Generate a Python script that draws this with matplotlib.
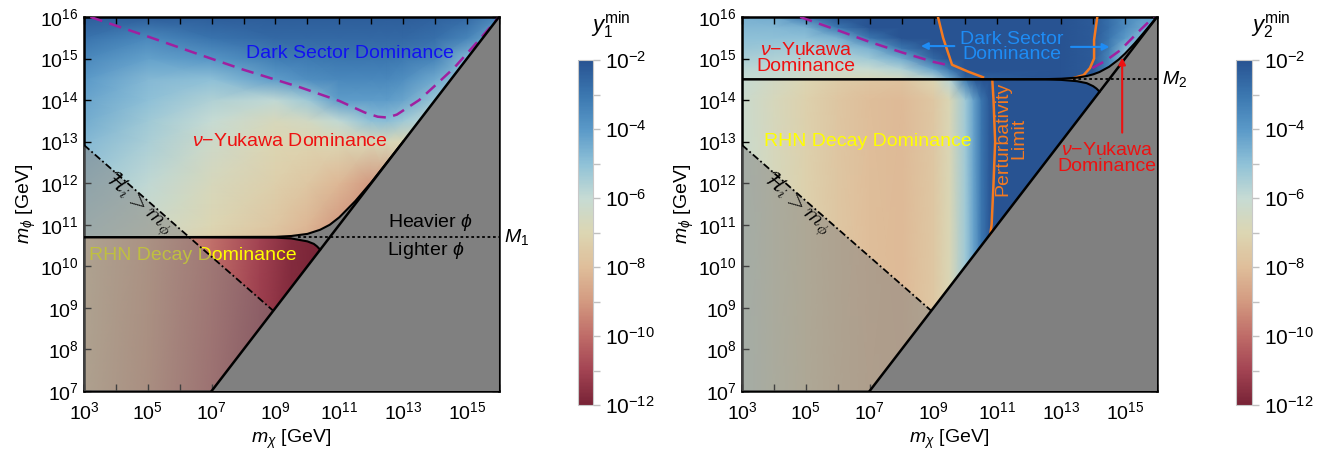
import numpy as np
import matplotlib
matplotlib.use("Agg")
import matplotlib.pyplot as plt
from matplotlib.colors import LinearSegmentedColormap, Normalize
from matplotlib.cm import ScalarMappable
from matplotlib.patches import Polygon

plt.rcParams['font.family'] = ['Liberation Sans', 'DejaVu Sans']
plt.rcParams['mathtext.fontset'] = 'custom'
plt.rcParams['mathtext.rm'] = 'Liberation Sans'
plt.rcParams['mathtext.it'] = 'Liberation Sans:italic'
plt.rcParams['mathtext.bf'] = 'Liberation Sans:bold'

# ---- data (all in log10 units) ----
# colour scale y_min, log10
cmap_colors = ['#782336', '#a34453', '#bf6c68', '#d39a80', '#dfbe9a', '#dcd6b2',
               '#c6dbd4', '#8fc1d7', '#5a99c8', '#3b77b0', '#285392']
cbar_ticks = [-12, -10, -8, -6, -4, -2]

# left panel, field above M1
LU_X = [3, 5, 7, 9, 10, 11, 12, 12.5, 13, 14, 15, 16]
LU_Y = [10.7, 11, 12, 13, 13.5, 14, 14.5, 15, 15.5, 16]
LU_Z = [[-5.8, -6.4, -7.2, -7.9, -8.4, -9.2, -9.6, -9.6, -9.6, -9.6, -9.6, -9.6],
        [-5.7, -6.3, -7.0, -7.7, -8.2, -9.0, -9.4, -9.4, -9.4, -9.4, -9.4, -9.4],
        [-5.3, -5.9, -6.7, -7.3, -7.6, -8.2, -9.0, -9.0, -8.0, -8.0, -8.0, -8.0],
        [-4.8, -5.5, -6.3, -7.0, -7.1, -7.0, -6.9, -6.8, -7.0, -7.0, -7.0, -7.0],
        [-4.5, -5.3, -6.0, -6.7, -6.5, -5.9, -5.0, -4.9, -5.3, -6.0, -6.0, -6.0],
        [-4.3, -5.0, -5.6, -5.9, -5.3, -4.1, -4.1, -4.1, -4.3, -5.2, -5.5, -5.5],
        [-4.0, -4.8, -5.0, -4.1, -3.7, -3.5, -3.5, -3.5, -3.7, -4.4, -5.2, -5.2],
        [-3.5, -4.2, -3.9, -3.2, -3.1, -3.0, -3.0, -3.0, -3.1, -3.4, -4.8, -5.0],
        [-2.9, -3.5, -2.9, -2.6, -2.6, -2.6, -2.6, -2.6, -2.6, -2.8, -3.4, -4.5],
        [-2.3, -2.3, -2.3, -2.3, -2.3, -2.3, -2.3, -2.3, -2.3, -2.4, -2.6, -3.5]]
# left panel, field below M1
LL_X = [3, 5, 7, 8.5, 9.5, 10.5, 16]
LL_Y = [7, 10.7]
LL_Z = [[-7.8, -8.9, -10.2, -11.3, -11.8, -12.0, -12.0],
        [-7.6, -8.7, -9.9, -11.0, -11.7, -12.0, -12.0]]

# right panel, field below M2
RL_X = [3, 4, 5, 6, 7, 8, 9, 9.5, 10, 10.25, 10.5, 10.75, 11, 16]
RL_Y = [7, 14.0, 14.5]
RL_Z = [[-6.2, -6.7, -7.2, -7.7, -8.0, -8.1, -7.6, -6.9, -5.3, -4.3, -3.0, -2.2, -1.8, -1.8],
        [-6.2, -6.7, -7.2, -7.7, -8.0, -8.1, -7.6, -6.9, -5.3, -4.3, -3.0, -2.2, -1.8, -1.8],
        [-6.0, -6.5, -7.0, -7.4, -7.7, -7.8, -7.0, -5.8, -3.2, -2.3, -1.9, -1.8, -1.8, -1.8]]
# right panel, field above M2
RU_X = [3, 4, 5, 6, 7, 8, 9, 9.5, 10, 13, 14, 14.5, 15, 15.5, 16]
RU_Y = [14.5, 14.75, 15, 15.25, 15.5, 15.75, 16]
RU_Z = [[-6.0, -6.2, -6.4, -6.7, -6.8, -6.6, -5.8, -4.5, -2.5, -1.8, -2.2, -3.5, -4.5, -4.5, -4.5],
        [-5.8, -5.9, -6.1, -6.2, -6.1, -5.6, -4.2, -3.0, -2.0, -1.8, -2.2, -3.5, -4.5, -4.5, -4.5],
        [-5.5, -5.6, -5.7, -5.7, -5.3, -4.5, -2.6, -2.0, -1.8, -1.8, -2.2, -3.5, -5.0, -5.0, -5.0],
        [-5.2, -5.3, -5.4, -5.2, -4.6, -3.0, -2.0, -2.0, -1.8, -1.8, -2.2, -3.2, -4.8, -5.0, -5.0],
        [-5.0, -5.0, -5.0, -4.6, -3.0, -2.0, -2.0, -2.0, -1.8, -1.8, -2.2, -3.0, -4.0, -4.8, -4.8],
        [-4.8, -4.8, -4.6, -3.0, -2.0, -2.0, -2.0, -2.0, -1.8, -1.8, -2.2, -2.8, -3.6, -4.3, -4.3],
        [-4.6, -4.5, -3.0, -2.0, -2.0, -2.0, -2.0, -2.0, -1.8, -1.8, -2.2, -2.8, -3.5, -4.0, -4.0]]

# threshold curves, left (M1)
M1 = 10.7
L_UP_X = [3, 9.0, 9.5, 10.0, 10.4, 10.7, 11.0, 11.5, 12.0, 12.5, 13.0]
L_UP_Y = [10.7, 10.71, 10.73, 10.78, 10.88, 11.0, 11.18, 11.57, 12.02, 12.51, 13.0]
L_LO_X = [3, 9.0, 9.5, 10.0, 10.2, 10.3, 10.35, 10.4]
L_LO_Y = [10.7, 10.69, 10.67, 10.60, 10.54, 10.48, 10.44, 10.4]
L_DOT_X = [9.7, 16]
# threshold curves, right (M2)
M2 = 14.5
R_UP_X = [3, 12.5, 13, 13.5, 13.8, 14, 14.2, 14.5, 14.8, 15, 15.3, 15.6, 16]
R_UP_Y = [14.5, 14.504, 14.514, 14.541, 14.579, 14.619, 14.676, 14.801, 14.976, 15.119, 15.364, 15.634, 16.0]
R_LO_X = [3, 12.5, 13, 13.5, 13.8, 14, 14.1, 14.15, 14.2]
R_LO_Y = [14.5, 14.496, 14.486, 14.454, 14.407, 14.335, 14.28, 14.243, 14.2]
R_DOT_X = [13.38, 16]

# H_i > m_phi line
HI_X = [3, 8.93]
HI_Y = [12.92, 8.93]

# purple dashed lines
L_DASH_X = [3.2, 5, 6.6, 8, 9.8, 11, 11.8, 12.2, 12.5, 12.8, 13.1, 13.5, 14, 14.6, 15.3, 16]
L_DASH_Y = [16.0, 15.53, 15.1, 14.73, 14.3, 13.98, 13.7, 13.6, 13.58, 13.65, 13.8, 14.0, 14.35, 14.78, 15.38, 16]
R_DASH1_X = [4.82, 6, 7, 8, 9, 9.58]
R_DASH1_Y = [16.0, 15.68, 15.4, 15.15, 14.92, 14.82]
R_DASH2_X = [13.97, 14.4, 14.85, 15.48, 15.9]
R_DASH2_Y = [14.77, 14.95, 15.2, 15.69, 16.0]

# perturbativity limit (orange)
PA_X = [9.14, 9.3, 9.58, 10.1, 10.55]
PA_Y = [16.0, 15.5, 14.85, 14.68, 14.55]
PB_X = [10.84, 10.88, 10.93, 10.88, 10.82, 10.78]
PB_Y = [14.5, 14.0, 13.0, 12.0, 11.0, 10.78]
PC_X = [14.13, 14.03, 14.03, 13.9, 13.7, 13.38]
PC_Y = [16.0, 15.45, 15.0, 14.77, 14.6, 14.53]

XMIN, XMAX, YMIN, YMAX = 3, 16, 7, 16
GRAY = '#808080'
FS = 14

cmap = LinearSegmentedColormap.from_list('ymin', cmap_colors)
norm = Normalize(vmin=-12, vmax=-2)

fig = plt.figure(figsize=(13.2, 4.49), dpi=100)
ax1 = fig.add_axes([0.0636, 0.1292, 0.3144, 0.833])
ax2 = fig.add_axes([0.5621, 0.1292, 0.3144, 0.833])
cax1 = fig.add_axes([0.4379, 0.098, 0.0114, 0.768])
cax2 = fig.add_axes([0.9364, 0.098, 0.0121, 0.768])


def field(ax, xs, ys, zs):
    X, Y = np.meshgrid(xs, ys)
    ax.pcolormesh(X, Y, np.array(zs), shading='gouraud', cmap=cmap, norm=norm,
                  zorder=1, rasterized=True)


def common(ax, up_x, up_y, lo_x, lo_y, dot_x, m, mlabel):
    # forbidden region m_phi < m_chi
    ax.add_patch(Polygon([(7, 7), (16, 16), (16, 7)], closed=True,
                         facecolor=GRAY, edgecolor='none', zorder=4))
    # wedge between the two threshold curves
    k = 2
    wedge = list(zip(up_x[k:], up_y[k:])) + list(zip(lo_x[k:], lo_y[k:]))[::-1]
    ax.add_patch(Polygon(wedge, closed=True, facecolor=GRAY, edgecolor='none', zorder=4))
    # overlay below H_i = m_phi
    ax.add_patch(Polygon([(HI_X[0], HI_Y[0]), (HI_X[1], HI_Y[1]), (7, 7), (3, 7)],
                         closed=True, facecolor=GRAY, edgecolor='none', alpha=0.5, zorder=3))
    ax.plot(HI_X, HI_Y, color='black', lw=1.3, ls=(0, (4, 1.5, 1, 1.5)), zorder=6)
    ax.plot([7, 16], [7, 16], color='black', lw=1.8, zorder=7)
    ax.plot(up_x, up_y, color='black', lw=1.5, zorder=7)
    ax.plot(lo_x, lo_y, color='black', lw=1.5, zorder=7)
    ax.plot(dot_x, [m, m], color='black', lw=1.3, ls=(0, (1.5, 1.5)), zorder=7)
    ax.text(16.15, m, mlabel, fontsize=FS, ha='left', va='center', clip_on=False)
    ax.text(4.72, 11.5, r'$\mathcal{H}_i > m_\phi$', fontsize=FS + 2, rotation=-41,
            ha='center', va='center', math_fontfamily='cm', zorder=8)

    ax.set_xlim(XMIN, XMAX)
    ax.set_ylim(YMIN, YMAX)
    ax.set_xticks(range(3, 17))
    ax.set_xticklabels([r'$10^{%d}$' % v if v % 2 == 1 else '' for v in range(3, 17)])
    ax.set_yticks(range(7, 17))
    ax.set_yticklabels([r'$10^{%d}$' % v for v in range(7, 17)])
    ax.tick_params(direction='in', length=5, width=1.0, top=True, right=True,
                   labelsize=FS)
    ax.tick_params(axis='x', pad=7)
    ax.tick_params(axis='y', pad=4)
    for s in ax.spines.values():
        s.set_linewidth(1.8)
    ax.set_xlabel(r'$m_\chi$ [GeV]', fontsize=FS, labelpad=4)
    ax.set_ylabel(r'$m_\phi$ [GeV]', fontsize=FS, labelpad=1)


# ---- left panel ----
field(ax1, LU_X, LU_Y, LU_Z)
field(ax1, LL_X, LL_Y, LL_Z)
common(ax1, L_UP_X, L_UP_Y, L_LO_X, L_LO_Y, L_DOT_X, M1, r'$M_1$')
ax1.plot(L_DASH_X, L_DASH_Y, color='#a0209f', lw=1.8, ls=(0, (5, 3)), zorder=6)
ax1.text(11.34, 15.13, 'Dark Sector Dominance', color='#1212f0', fontsize=FS,
         ha='center', va='center', zorder=8)
ax1.text(9.46, 13.0, '$\\nu$\u2212Yukawa Dominance', color='#ee1111', fontsize=FS,
         ha='center', va='center', zorder=8)
ax1.text(3.15, 10.25, 'RHN Decay Dominance', color='#ffff00', fontsize=FS,
         ha='left', va='center', zorder=2.5)
ax1.text(13.85, 11.05, r'Heavier $\phi$', fontsize=FS, ha='center', va='center', zorder=8)
ax1.text(13.7, 10.38, r'Lighter $\phi$', fontsize=FS, ha='center', va='center', zorder=8)

# ---- right panel ----
field(ax2, RL_X, RL_Y, RL_Z)
field(ax2, RU_X, RU_Y, RU_Z)
common(ax2, R_UP_X, R_UP_Y, R_LO_X, R_LO_Y, R_DOT_X, M2, r'$M_2$')
ax2.plot(R_DASH1_X, R_DASH1_Y, color='#a0209f', lw=1.8, ls=(0, (5, 3)), zorder=6)
ax2.plot(R_DASH2_X, R_DASH2_Y, color='#a0209f', lw=1.8, ls=(0, (5, 3)), zorder=6)
for px, py in [(PA_X, PA_Y), (PB_X, PB_Y), (PC_X, PC_Y)]:
    ax2.plot(px, py, color='#f57a20', lw=1.8, zorder=6)
ax2.text(5.0, 15.0, '$\\nu$\u2212Yukawa\nDominance', color='#ee1111', fontsize=FS,
         ha='center', va='center', linespacing=0.9, zorder=8)
ax2.text(11.46, 15.28, 'Dark Sector\nDominance', color='#1e8cf5', fontsize=FS,
         ha='center', va='center', linespacing=0.9, zorder=8)
ax2.annotate('', xy=(8.52, 15.3), xytext=(9.74, 15.3), zorder=8,
             arrowprops=dict(arrowstyle='-|>', color='#1e8cf5', lw=1.5))
ax2.annotate('', xy=(14.6, 15.28), xytext=(13.22, 15.28), zorder=8,
             arrowprops=dict(arrowstyle='-|>', color='#1e8cf5', lw=1.5))
ax2.text(6.95, 13.0, 'RHN Decay Dominance', color='#ffff00', fontsize=FS,
         ha='center', va='center', zorder=8)
ax2.text(11.43, 13.07, 'Perturbativity\nLimit', color='#f57a20', fontsize=FS,
         rotation=90, ha='center', va='center', linespacing=0.9, zorder=8)
ax2.text(14.44, 12.6, '$\\nu$\u2212Yukawa\nDominance', color='#ee1111', fontsize=FS,
         ha='center', va='center', linespacing=0.9, zorder=8)
ax2.annotate('', xy=(14.91, 15.09), xytext=(14.91, 13.15), zorder=8,
             arrowprops=dict(arrowstyle='-|>', color='#ee1111', lw=1.5))

# ---- colorbars ----
for cax, title in [(cax1, r'$y_1^{\mathrm{min}}$'), (cax2, r'$y_2^{\mathrm{min}}$')]:
    cb = fig.colorbar(ScalarMappable(norm=norm, cmap=cmap), cax=cax)
    cb.set_ticks(cbar_ticks)
    cb.set_ticklabels([r'$10^{%d}$' % v for v in cbar_ticks])
    cb.ax.set_yticks(range(-11, -2, 2), minor=True)
    cb.ax.tick_params(which='both', direction='out', color='#c0c0c0', length=5,
                      width=1, labelsize=15)
    cb.outline.set_edgecolor('#c8c8c8')
    cb.outline.set_linewidth(0.8)
    cax.text(2.2, 1.055, title, transform=cax.transAxes, fontsize=16,
             ha='center', va='bottom')

fig.savefig('out.png', dpi=100)
